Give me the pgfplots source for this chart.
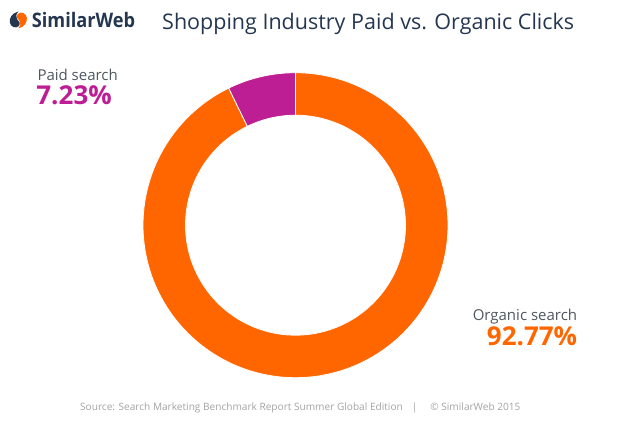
\documentclass[border=0pt]{standalone}
\usepackage{graphicx}
\usepackage{pgfplots}
\pgfplotsset{compat=1.18}
\usepackage{pgfplotstable}
\usepgfplotslibrary{fillbetween}
\usepackage{fontspec}
\setmainfont{Open Sans}
\definecolor{swOrange}{HTML}{FF6600}
\definecolor{swMagenta}{HTML}{BE1E93}
\definecolor{swNavy}{HTML}{243650}
\definecolor{swGray}{HTML}{4F5760}
\definecolor{swLight}{HTML}{A3A3A3}

\pgfplotstableread{
label value
Paid 7.23
Organic 92.77
}\shares

\begin{document}
\begin{tikzpicture}
\path (0pt,0pt) rectangle (634pt,432pt);
\pgfplotstablegetelem{0}{value}\of\shares \let\vPaid\pgfplotsretval
\pgfplotstablegetelem{1}{value}\of\shares \let\vOrg\pgfplotsretval
\pgfmathsetmacro\aA{90}
\pgfmathsetmacro\aB{90+3.6*\vPaid}
\pgfmathsetmacro\aC{\aB+3.6*\vOrg}
\begin{axis}[at={(143pt,54.3pt)}, anchor=south west, width=305pt, height=305pt,
  scale only axis, xmin=-1, xmax=1, ymin=-1, ymax=1, hide axis, clip=false]
\addplot[draw=none, name path=pout, domain=\aA:\aB, samples=30] ({cos(x)},{sin(x)});
\addplot[draw=none, name path=pin, domain=\aA:\aB, samples=30] ({0.7213*cos(x)},{0.7213*sin(x)});
\addplot[fill=swMagenta, draw=white, line width=0.8pt] fill between[of=pout and pin];
\addplot[draw=none, name path=oout, domain=\aB:\aC, samples=200] ({cos(x)},{sin(x)});
\addplot[draw=none, name path=oin, domain=\aB:\aC, samples=200] ({0.7213*cos(x)},{0.7213*sin(x)});
\addplot[fill=swOrange, draw=white, line width=0.8pt] fill between[of=oout and oin];
\end{axis}
\begin{scope}[x=1pt,y=1pt]
% logo icon
\fill[swNavy] (18.5,420.5) .. controls (12,419) and (9,414) .. (9.8,409.5)
  .. controls (10.5,405) and (16,403) .. (18.8,406) .. controls (21,408.5) and (19,411) .. (17,413)
  .. controls (15.5,415) and (16,418) .. cycle;
\fill[swOrange] (18.1,403.5) .. controls (24.6,405) and (27.6,410) .. (26.8,414.5)
  .. controls (26.1,419) and (20.6,421) .. (17.8,418) .. controls (15.6,415.5) and (17.6,413) .. (19.6,411)
  .. controls (21.1,409) and (20.6,406) .. cycle;
\node[anchor=base west, inner sep=0, text=swNavy, font=\fontsize{20}{22}\selectfont\bfseries] at (31.7,404.3) {\scalebox{0.91}[1]{SimilarWeb}};
\node[anchor=base west, inner sep=0, text=swNavy, font=\fontsize{21.5}{24}\selectfont] at (162,402.7) {Shopping Industry Paid vs. Organic Clicks};
\node[anchor=base west, inner sep=0, text=swGray, font=\fontsize{15}{17}\selectfont] at (37.3,351.3) {Paid search};
\node[anchor=base west, inner sep=0, text=swMagenta, font=\fontsize{26}{28}\selectfont\bfseries] at (36.2,327) {7.23\%};
\node[anchor=base east, inner sep=0, text=swGray, font=\fontsize{15}{17}\selectfont] at (577.3,112) {Organic search};
\node[anchor=base east, inner sep=0, text=swOrange, font=\fontsize{26}{28}\selectfont\bfseries] at (577.3,87) {92.77\%};
\node[anchor=base west, inner sep=0, text=swLight, font=\fontsize{10.1}{12}\selectfont] at (80,21.5) {Source: Search Marketing Benchmark Report Summer Global Edition\hspace{9pt}|\hspace{13pt}© SimilarWeb 2015};
\end{scope}
\end{tikzpicture}
\end{document}
